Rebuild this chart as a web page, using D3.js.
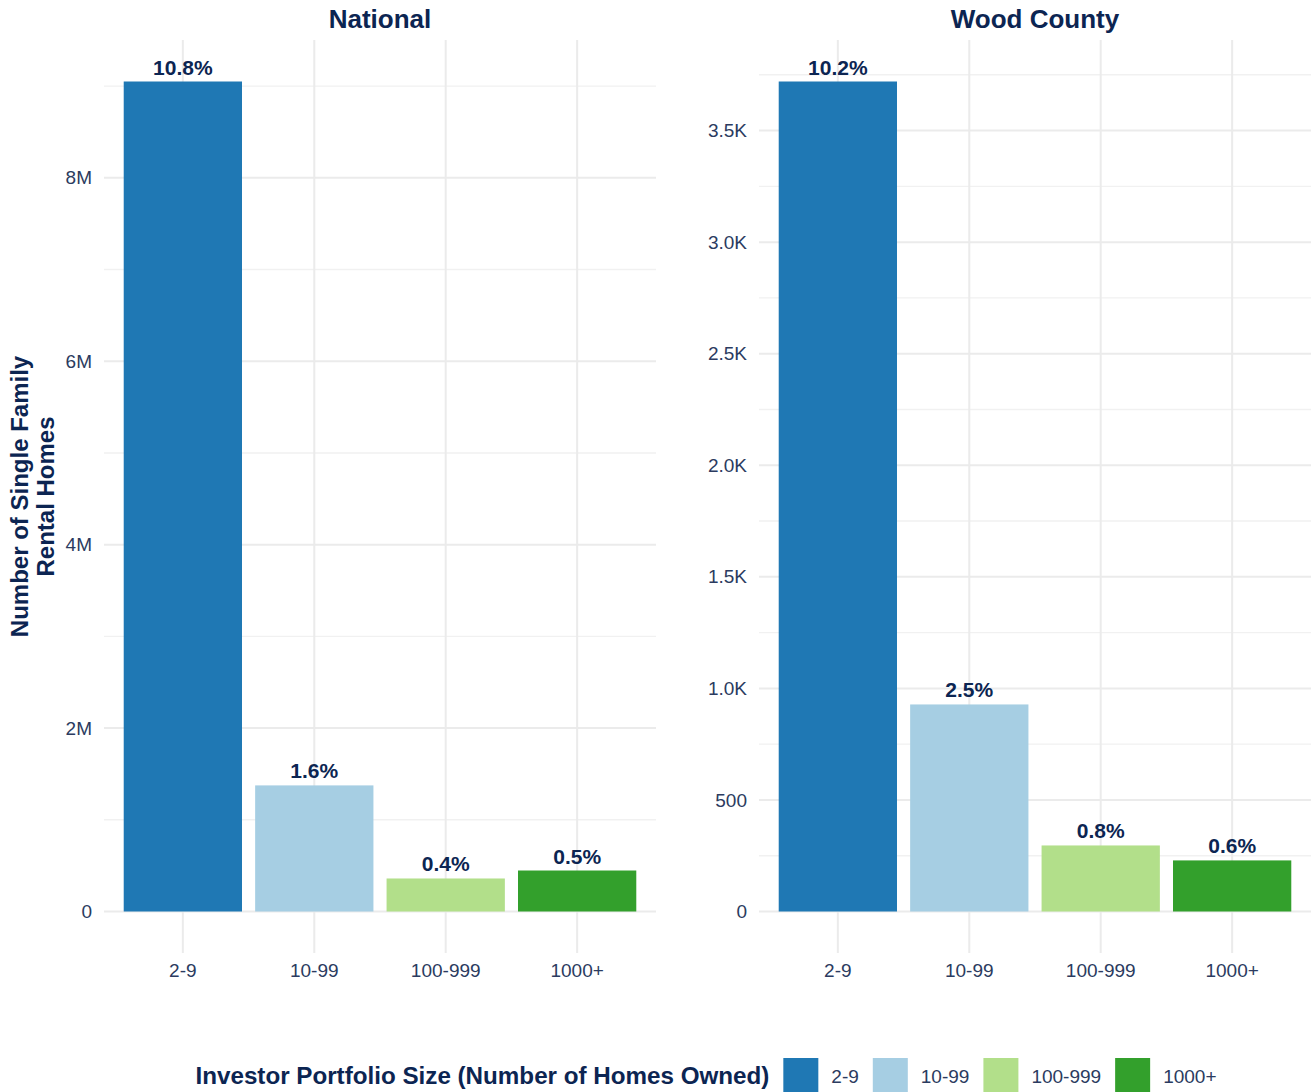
<!DOCTYPE html>
<meta charset="utf-8">
<script src="https://d3js.org/d3.v7.min.js"></script>
<style>
body { margin: 0; background: #fff; }
text { font-family: "Liberation Sans", Arial, sans-serif; }
</style>
<div id="chart"></div>
<script>
// data
var categories = ["2-9", "10-99", "100-999", "1000+"];
var nationalHomes = [9050000, 1375000, 360000, 447000];
var nationalPct = ["10.8%", "1.6%", "0.4%", "0.5%"];
var woodHomes = [3720, 928, 296, 229];
var woodPct = ["10.2%", "2.5%", "0.8%", "0.6%"];
var colors = ["#1f78b4", "#a6cee3", "#b2df8a", "#33a02c"];
var panelTitles = ["National", "Wood County"];

var W = 1314, H = 1092;
var navy = "#0c2552", tickCol = "#2b3b60", grid = "#ebebeb";
var plotTop = 40, plotBottom = 953;

var svg = d3.select("#chart").append("svg")
  .attr("width", W).attr("height", H);
svg.append("rect").attr("width", W).attr("height", H).attr("fill", "#fff");

var colour = d3.scaleOrdinal().domain(categories).range(colors);

function fmtNational(v) { return v === 0 ? "0" : (v / 1e6) + "M"; }
function fmtWood(v) { return v >= 1000 ? (v / 1000).toFixed(1) + "K" : String(v); }

function panel(x0, x1, values, pcts, title, fmt, nTicks) {
  var max = d3.max(values);
  var x = d3.scaleBand().domain(categories).range([x0, x1])
    .paddingInner(0.1).paddingOuter(0.15);
  var y = d3.scaleLinear().domain([-0.05 * max, 1.05 * max]).range([plotBottom, plotTop]);
  var g = svg.append("g");

  var ticks = y.ticks(nTicks).filter(function(t) { return t >= 0; });
  var step = ticks[1] - ticks[0];
  var minor = d3.range(ticks[0] + step / 2, y.domain()[1], step);

  g.selectAll(".minor").data(minor).enter().append("line")
    .attr("x1", x0).attr("x2", x1)
    .attr("y1", function(d) { return y(d); }).attr("y2", function(d) { return y(d); })
    .attr("stroke", "#f1f1f1").attr("stroke-width", 1.4);
  g.selectAll(".major").data(ticks).enter().append("line")
    .attr("x1", x0).attr("x2", x1)
    .attr("y1", function(d) { return y(d); }).attr("y2", function(d) { return y(d); })
    .attr("stroke", grid).attr("stroke-width", 2);
  g.selectAll(".vgrid").data(categories).enter().append("line")
    .attr("x1", function(d) { return x(d) + x.bandwidth() / 2; })
    .attr("x2", function(d) { return x(d) + x.bandwidth() / 2; })
    .attr("y1", plotTop).attr("y2", plotBottom)
    .attr("stroke", grid).attr("stroke-width", 2);

  g.selectAll(".bar").data(values).enter().append("rect")
    .attr("x", function(d, i) { return x(categories[i]); })
    .attr("width", x.bandwidth())
    .attr("y", function(d) { return y(d); })
    .attr("height", function(d) { return y(0) - y(d); })
    .attr("fill", function(d, i) { return colour(categories[i]); });

  g.selectAll(".lab").data(values).enter().append("text")
    .attr("x", function(d, i) { return x(categories[i]) + x.bandwidth() / 2; })
    .attr("y", function(d) { return y(d) - 7; })
    .attr("text-anchor", "middle")
    .attr("font-weight", "bold").attr("font-size", 21).attr("fill", navy)
    .text(function(d, i) { return pcts[i]; });

  var ya = g.append("g").attr("transform", "translate(" + x0 + ",0)")
    .call(d3.axisLeft(y).tickValues(ticks).tickFormat(fmt).tickSize(0).tickPadding(12));
  ya.select(".domain").remove();
  ya.selectAll("text").attr("font-size", 19).attr("fill", tickCol)
    .style("font-family", "Liberation Sans, Arial, sans-serif");

  var xa = g.append("g").attr("transform", "translate(0," + plotBottom + ")")
    .call(d3.axisBottom(x).tickSize(0).tickPadding(11));
  xa.select(".domain").remove();
  xa.selectAll("text").attr("font-size", 19).attr("fill", tickCol)
    .style("font-family", "Liberation Sans, Arial, sans-serif");

  g.append("text").attr("x", (x0 + x1) / 2).attr("y", 28)
    .attr("text-anchor", "middle").attr("font-weight", "bold")
    .attr("font-size", 26).attr("fill", navy).text(title);
}

panel(104, 656, nationalHomes, nationalPct, panelTitles[0], fmtNational, 5);
panel(759, 1311, woodHomes, woodPct, panelTitles[1], fmtWood, 8);

// y axis title
var yt = svg.append("text")
  .attr("transform", "translate(28," + ((plotTop + plotBottom) / 2) + ") rotate(-90)")
  .attr("text-anchor", "middle").attr("font-weight", "bold")
  .attr("font-size", 24).attr("fill", navy);
yt.append("tspan").attr("x", 0).attr("dy", 0).text("Number of Single Family");
yt.append("tspan").attr("x", 0).attr("dy", 26).text("Rental Homes");

// legend
var leg = svg.append("g");
var lt = leg.append("text").attr("x", 0).attr("y", 1084)
  .attr("font-weight", "bold").attr("font-size", 24.2).attr("fill", navy)
  .text("Investor Portfolio Size (Number of Homes Owned)");
var cx = lt.node().getComputedTextLength() + 14;
categories.forEach(function(c) {
  leg.append("rect").attr("x", cx).attr("y", 1058).attr("width", 35).attr("height", 36)
    .attr("fill", colour(c));
  var t = leg.append("text").attr("x", cx + 48).attr("y", 1083)
    .attr("font-size", 19).attr("fill", tickCol).text(c);
  cx += 48 + t.node().getComputedTextLength() + 14;
});
var legW = cx - 14;
leg.attr("transform", "translate(" + (706 - legW / 2) + ",0)");
</script>
